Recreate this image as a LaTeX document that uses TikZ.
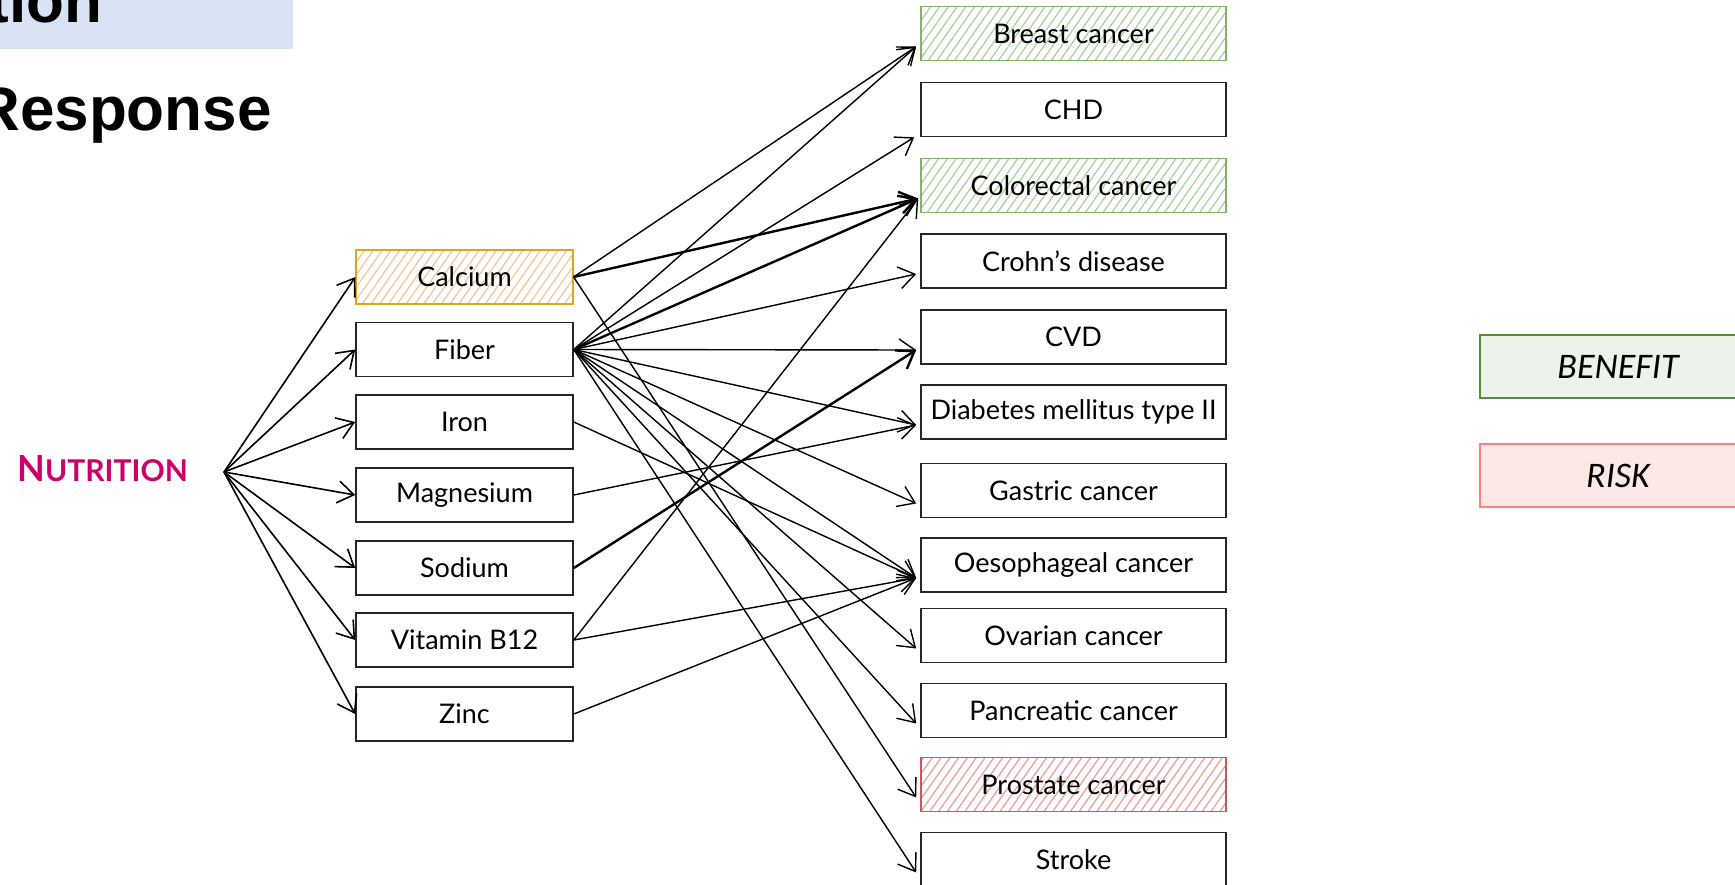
\documentclass[tikz,border=0pt]{standalone}
\usepackage{fontspec}
\setmainfont{Lato}
\newfontfamily\titlefont{Liberation Sans}
\newfontfamily\legendfont{Carlito}
\usetikzlibrary{arrows.meta,patterns.meta}

\definecolor{titleblue}{HTML}{DAE3F3}
\definecolor{nutri}{HTML}{CC0066}
\definecolor{bgreen}{HTML}{82B366}
\definecolor{hgreen}{HTML}{A9CE9C}
\definecolor{bred}{HTML}{C85A5A}
\definecolor{hred}{HTML}{EC9A9A}
\definecolor{borange}{HTML}{DDA520}
\definecolor{horange}{HTML}{F2C49A}
\definecolor{legG}{HTML}{5A8A3C}
\definecolor{legGfill}{HTML}{EBF3EA}
\definecolor{legR}{HTML}{FF8080}
\definecolor{legRfill}{HTML}{FDE8E8}

\begin{document}
\begin{tikzpicture}[x=0.5pt,y=-0.5pt,
  box/.style={draw=black!85, line width=0.8pt, minimum height=27pt, inner sep=0pt,
    font=\fontsize{13.5}{16}\selectfont},
  src/.style={box, minimum width=108.5pt},
  tgt/.style={box, minimum width=152.5pt},
  greenhatch/.style={draw=bgreen, pattern={Lines[angle=55,distance=3.6pt,line width=0.6pt]}, pattern color=hgreen},
  redhatch/.style={draw=bred, pattern={Lines[angle=55,distance=3.6pt,line width=0.6pt]}, pattern color=hred},
  orangehatch/.style={draw=borange, pattern={Lines[angle=55,distance=3.6pt,line width=0.6pt]}, pattern color=horange},
  legend/.style={minimum width=138pt, minimum height=31.5pt, inner sep=0pt, line width=1pt,
    font=\legendfont\itshape\fontsize{18}{21}\selectfont},
  conn/.style={-{Straight Barb[length=8pt,width=11pt]}, line width=0.7pt},
  thickconn/.style={conn, line width=1.2pt}
]
\useasboundingbox (0,0) rectangle (1735,884);

% title fragments (cut off at the edge, as in the reference)
\fill[titleblue] (-10,-10) rectangle (293,49);
\node[anchor=base west, inner sep=0pt, font=\titlefont\bfseries\fontsize{31}{36}\selectfont] (t1) at (-12,22) {tion};
\node[anchor=base west, inner sep=0pt, font=\titlefont\bfseries\fontsize{31}{36}\selectfont] (t2) at (-25,130) {Response};

% root
\node[anchor=base west, inner sep=0pt, text=nutri, font=\bfseries] (nutrition) at (17,481)
  {\fontsize{18}{20}\selectfont N\fontsize{15}{18}\selectfont UTRITION};
\coordinate (hub) at (224,472);

% sources
\node[src, orangehatch] (ca) at (464.5,277) {Calcium};
\node[src] (fi) at (464.5,349.5) {Fiber};
\node[src] (ir) at (464.5,422) {Iron};
\node[src] (mg) at (464.5,495) {Magnesium};
\node[src] (na) at (464.5,568) {Sodium};
\node[src] (b12) at (464.5,640) {Vitamin B12};
\node[src] (zn) at (464.5,714) {Zinc};

% targets
\node[tgt, greenhatch] (breast) at (1073.5,33.5) {Breast cancer};
\node[tgt] (chd) at (1073.5,109.5) {CHD};
\node[tgt, greenhatch] (colo) at (1073.5,185.5) {Colorectal cancer};
\node[tgt] (crohn) at (1073.5,261) {Crohn's disease};
\node[tgt] (cvd) at (1073.5,337) {CVD};
\node[tgt] (diab) at (1073.5,412) {Diabetes mellitus type II};
\node[tgt] (gast) at (1073.5,490.5) {Gastric cancer};
\node[tgt] (oeso) at (1073.5,565) {Oesophageal cancer};
\node[tgt] (ovar) at (1073.5,635.5) {Ovarian cancer};
\node[tgt] (panc) at (1073.5,710.5) {Pancreatic cancer};
\node[tgt, redhatch] (prost) at (1073.5,784.5) {Prostate cancer};
\node[tgt] (stroke) at (1073.5,859.5) {Stroke};

% legend
\node[legend, draw=legG, fill=legGfill] (benefit) at (1618,366.5) {BENEFIT};
\node[legend, draw=legR, fill=legRfill] (risk) at (1618,475.5) {RISK};

% hub arrows
\foreach \s in {ca,fi,ir,mg,na,b12,zn}
  \draw[conn, line width=0.8pt] (hub) -- (\s.west);

% calcium
\draw[conn] (ca.east) -- ([xshift=-2pt,yshift=-6.5pt]breast.west);
\draw[thickconn] (ca.east) -- ([xshift=-1pt,yshift=-6.5pt]colo.west);
\draw[conn] (ca.east) -- ([xshift=-2pt,yshift=-6.5pt]prost.west);
% fiber
\draw[conn] (fi.east) -- ([xshift=-2pt,yshift=-6.5pt]breast.west);
\draw[conn] (fi.east) -- ([xshift=-3pt]chd.south west);
\draw[thickconn] (fi.east) -- ([xshift=-1pt,yshift=-6.5pt]colo.west);
\draw[conn] (fi.east) -- ([xshift=-2pt,yshift=-6.5pt]crohn.west);
\draw[conn] (fi.east) -- ([xshift=-2pt,yshift=-6.5pt]cvd.west);
\draw[conn] (fi.east) -- ([xshift=-2pt,yshift=-6.5pt]diab.west);
\draw[conn] (fi.east) -- ([xshift=-2pt,yshift=-6.5pt]gast.west);
\draw[conn] (fi.east) -- ([xshift=-2pt,yshift=-6.5pt]oeso.west);
\draw[conn] (fi.east) -- ([xshift=-2pt,yshift=-6.5pt]ovar.west);
\draw[conn] (fi.east) -- ([xshift=-2pt,yshift=-6.5pt]panc.west);
\draw[conn] (fi.east) -- ([xshift=-2pt,yshift=-6.5pt]stroke.west);
% others
\draw[conn] (ir.east) -- ([xshift=-2pt,yshift=-6.5pt]oeso.west);
\draw[conn] (mg.east) -- ([xshift=-2pt,yshift=-6.5pt]diab.west);
\draw[thickconn] (na.east) -- ([xshift=-2pt,yshift=-6.5pt]cvd.west);
\draw[conn] (b12.east) -- ([xshift=-1pt,yshift=-6.5pt]colo.west);
\draw[conn] (b12.east) -- ([xshift=-2pt,yshift=-6.5pt]oeso.west);
\draw[conn] (zn.east) -- ([xshift=-2pt,yshift=-6.5pt]oeso.west);
\end{tikzpicture}
\end{document}
